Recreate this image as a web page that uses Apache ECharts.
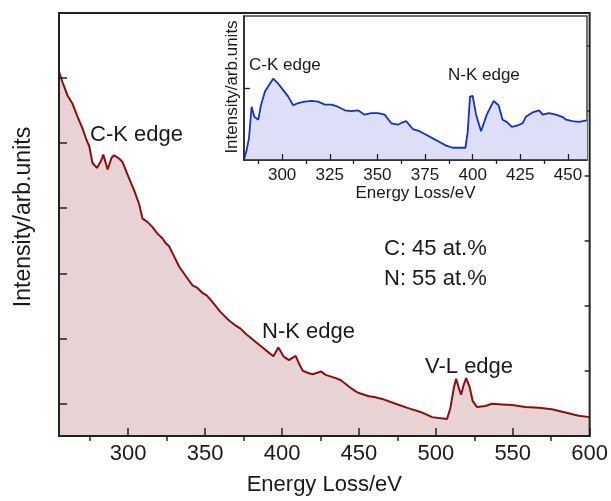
<!DOCTYPE html>
<html>
<head>
<meta charset="utf-8"/>
<title>EELS spectrum</title>
<script src="https://cdn.jsdelivr.net/npm/echarts@6/dist/echarts.min.js"></script>
<style>
	* { margin: 0; padding: 0; }
	body { background: #fff; }
	#chart { width: 611px; height: 501px; }
</style>
</head>
<body>
<div id="chart"></div>
<script>
// main spectrum (energy loss in eV, intensity in arb. units)
var mainEnergy = [255, 257.3, 260.6, 263.8, 267.1, 270.3, 272.5, 274.7, 276.8, 279.7, 282.3, 283.8, 286.6, 289.2, 290.9, 294.2,
	296.3, 299.5, 303.9, 307.1, 309.3, 312.5, 315.8, 319, 322.3, 324.5, 326.5, 328.8, 333.1, 337.5, 341.8, 345, 348.2, 351, 354.7,
	360.2, 365.6, 369.9, 373, 376.4, 382.9, 389.4, 394.4, 397.6, 401.3, 404.5, 406.7, 408.9, 411, 413.6, 417.5, 420, 421.9,
	425.5, 428.4, 434.9, 438, 441.4, 444, 447.9, 450, 456.5, 460, 465.1, 473.8, 482.5, 491.1, 497.6, 501.9, 507.3, 509.5,
	511.7, 513.2, 514.9, 516.4, 518.2, 519.7, 521.9, 524, 526.8, 532.3, 536.6, 543.1, 549.5, 558.2, 566.9, 575.5, 584.2,
	592.9, 600];
var mainIntensity = [11.2, 10.87, 10.46, 10.21, 9.81, 9.45, 9.15, 8.9, 8.39, 8.24, 8.45, 8.65, 8.19, 8.55, 8.63, 8.52,
	8.42, 8.04, 7.54, 7.13, 6.68, 6.58, 6.42, 6.22, 6.07, 5.92, 5.84, 5.62, 5.21, 4.91, 4.63, 4.55, 4.4, 4.32, 4.12,
	3.8, 3.55, 3.39, 3.3, 3.14, 2.89, 2.64, 2.45, 2.72, 2.43, 2.33, 2.4, 2.46, 2.23, 2.0, 1.93, 1.9, 1.93,
	1.98, 1.88, 1.78, 1.72, 1.6, 1.5, 1.37, 1.32, 1.22, 1.2, 1.14, 0.99, 0.85, 0.72, 0.58, 0.55, 0.52, 0.87,
	1.48, 1.76, 1.48, 1.27, 1.58, 1.78, 1.52, 1.07, 0.89, 0.92, 0.99, 0.97, 0.95, 0.89, 0.87, 0.82, 0.72,
	0.62, 0.58];

// inset: background-subtracted spectrum
var insetEnergy = [280, 281.4, 282.6, 284, 285.4, 287.5, 288.9, 291, 293.6, 295.3, 296.5, 298, 300.6, 303.2, 305.8, 308.4,
	311.9, 315.4, 318.9, 322.4, 325.9, 329.3, 332.9, 336.4, 339.8, 343.3, 346.8, 350.3, 353.8, 357.3, 360.8, 363, 365.1,
	368.6, 372.1, 375.6, 379.1, 382.6, 386.1, 389.5, 393, 396.2, 397.4, 398.6, 400, 401.8, 404.4, 407.4, 411, 413.6,
	415.7, 417.8, 420.6, 423.6, 426.2, 427.9, 431.4, 434.9, 436.7, 440.1, 443.6, 447.1, 448.9, 452.3, 455.8, 460];
var insetIntensity = [0.01, 0.14, 0.3, 0.74, 0.6, 0.56, 0.76, 0.95, 1.06, 1.13, 1.1, 1.06, 0.97, 0.88, 0.76, 0.79,
	0.81, 0.82, 0.81, 0.77, 0.77, 0.74, 0.69, 0.68, 0.69, 0.63, 0.65, 0.65, 0.63, 0.51, 0.49, 0.52, 0.54,
	0.43, 0.4, 0.35, 0.3, 0.25, 0.2, 0.17, 0.17, 0.17, 0.39, 0.88, 0.89, 0.63, 0.4, 0.63, 0.82, 0.76,
	0.56, 0.53, 0.46, 0.48, 0.51, 0.6, 0.66, 0.69, 0.63, 0.65, 0.63, 0.6, 0.56, 0.54, 0.53, 0.55];

var mainMajorTicks = [300, 350, 400, 450, 500, 550, 600];
var mainMinorTicks = [275, 325, 375, 425, 475, 525, 575];
var mainYMajor = [1, 3, 5, 7, 9, 11];
var mainYMinor = [2, 4, 6, 8, 10, 12];
var insetMajorTicks = [300, 325, 350, 375, 400, 425, 450];
var insetMinorTicks = [287.5, 312.5, 337.5, 362.5, 387.5, 412.5, 437.5];
var insetYTicks = [1];

function pairs(xs, ys) {
	return xs.map(function (x, i) { return [x, ys[i]]; });
}

var font = 'Liberation Sans, Arial, sans-serif';
var ink = '#1a1a1a';

var chart = echarts.init(document.getElementById('chart'));
var option = {
	animation: false,
	grid: [
		{ left: 59, top: 13, right: 20, bottom: 59, show: true, z: 3, backgroundColor: 'transparent',
			borderColor: '#222', borderWidth: 2 },
		{ left: 244, top: 16, right: 24, bottom: 341, show: true, z: 5, backgroundColor: '#fff',
			borderColor: '#444', borderWidth: 1.5 }
	],
	xAxis: [
		{ type: 'value', gridIndex: 0, min: 255, max: 600, z: 3,
			axisLine: { show: true, onZero: false, lineStyle: { color: '#222', width: 2 } },
			axisTick: { show: true, inside: true, length: 8, customValues: mainMajorTicks, lineStyle: { color: '#222', width: 1.5 } },
			axisLabel: { show: true, customValues: mainMajorTicks, margin: 7, fontSize: 22, fontFamily: font, color: ink },
			splitLine: { show: false },
			name: 'Energy Loss/eV', nameLocation: 'middle', nameGap: 38,
			nameTextStyle: { fontSize: 22, fontFamily: font, color: ink } },
		{ type: 'value', gridIndex: 0, min: 255, max: 600, z: 3,
			axisLine: { show: false },
			axisTick: { show: true, inside: true, length: 5, customValues: mainMinorTicks, lineStyle: { color: '#222', width: 1.5 } },
			axisLabel: { show: false }, splitLine: { show: false } },
		{ type: 'value', gridIndex: 1, min: 280, max: 460, z: 7,
			axisLine: { show: true, onZero: false, lineStyle: { color: '#222', width: 1.5 } },
			axisTick: { show: true, inside: true, length: 6, customValues: insetMajorTicks, lineStyle: { color: '#222', width: 1.3 } },
			axisLabel: { show: true, customValues: insetMajorTicks, margin: 7, fontSize: 17, fontFamily: font, color: ink },
			splitLine: { show: false },
			name: 'Energy Loss/eV', nameLocation: 'middle', nameGap: 25,
			nameTextStyle: { fontSize: 17, fontFamily: font, color: ink } },
		{ type: 'value', gridIndex: 1, min: 280, max: 460, z: 7,
			axisLine: { show: false },
			axisTick: { show: true, inside: true, length: 4, customValues: insetMinorTicks, lineStyle: { color: '#222', width: 1.3 } },
			axisLabel: { show: false }, splitLine: { show: false } }
	],
	yAxis: [
		{ type: 'value', gridIndex: 0, min: 0, max: 13, z: 3,
			axisLine: { show: true, onZero: false, lineStyle: { color: '#222', width: 2 } },
			axisTick: { show: true, inside: true, length: 8, customValues: mainYMajor, lineStyle: { color: '#222', width: 1.5 } },
			axisLabel: { show: false }, splitLine: { show: false } },
		{ type: 'value', gridIndex: 0, min: 0, max: 13, z: 3,
			axisLine: { show: false },
			axisTick: { show: true, inside: true, length: 5, customValues: mainYMinor, lineStyle: { color: '#222', width: 1.5 } },
			axisLabel: { show: false }, splitLine: { show: false } },
		{ type: 'value', gridIndex: 1, min: 0, max: 2, z: 7,
			axisLine: { show: true, onZero: false, lineStyle: { color: '#222', width: 1.5 } },
			axisTick: { show: true, inside: true, length: 6, customValues: insetYTicks, lineStyle: { color: '#222', width: 1.3 } },
			axisLabel: { show: false }, splitLine: { show: false } }
	],
	series: [
		{ type: 'line', xAxisIndex: 0, yAxisIndex: 0, z: 2, showSymbol: false, symbol: 'none',
			data: pairs(mainEnergy, mainIntensity),
			lineStyle: { color: '#8a0f0f', width: 2 },
			areaStyle: { color: 'rgb(231,211,212)', opacity: 1 } },
		{ type: 'line', xAxisIndex: 2, yAxisIndex: 2, z: 6, showSymbol: false, symbol: 'none',
			data: pairs(insetEnergy, insetIntensity),
			lineStyle: { color: '#1530cc', width: 1.8 },
			areaStyle: { color: 'rgb(220,223,245)', opacity: 1 } }
	],
	graphic: [
		{ type: 'text', x: 24, y: 217, rotation: Math.PI / 2, z: 20,
			style: { text: 'Intensity/arb.units', font: '23px ' + font, fill: ink, textAlign: 'center', textVerticalAlign: 'middle' } },
		{ type: 'text', x: 232, y: 87, rotation: Math.PI / 2, z: 20,
			style: { text: 'Intensity/arb.units', font: '17px ' + font, fill: ink, textAlign: 'center', textVerticalAlign: 'middle' } },
		{ type: 'text', x: 90, y: 135, z: 20,
			style: { text: 'C-K edge', font: '22px ' + font, fill: ink, textVerticalAlign: 'middle' } },
		{ type: 'text', x: 262, y: 332, z: 20,
			style: { text: 'N-K edge', font: '22px ' + font, fill: ink, textVerticalAlign: 'middle' } },
		{ type: 'text', x: 425, y: 367, z: 20,
			style: { text: 'V-L edge', font: '22px ' + font, fill: ink, textVerticalAlign: 'middle' } },
		{ type: 'text', x: 384, y: 249, z: 20,
			style: { text: 'C: 45 at.%', font: '22px ' + font, fill: ink, textVerticalAlign: 'middle' } },
		{ type: 'text', x: 384, y: 279, z: 20,
			style: { text: 'N: 55 at.%', font: '22px ' + font, fill: ink, textVerticalAlign: 'middle' } },
		{ type: 'text', x: 249, y: 65, z: 20,
			style: { text: 'C-K edge', font: '17px ' + font, fill: ink, textVerticalAlign: 'middle' } },
		{ type: 'text', x: 448, y: 75, z: 20,
			style: { text: 'N-K edge', font: '17px ' + font, fill: ink, textVerticalAlign: 'middle' } }
	]
};
chart.setOption(option);
</script>
</body>
</html>
